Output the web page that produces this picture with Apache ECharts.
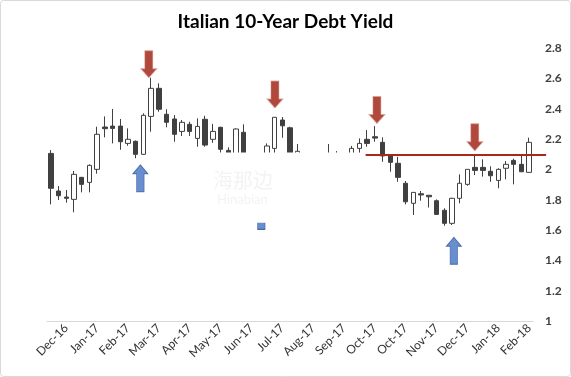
<!DOCTYPE html>
<html>
<head>
<meta charset="utf-8">
<title>Italian 10-Year Debt Yield</title>
<script src="https://cdn.jsdelivr.net/npm/echarts@6/dist/echarts.min.js"></script>
<style>
	html, body { margin: 0; padding: 0; background: #fff; }
	#chart { width: 571px; height: 377px; }
</style>
</head>
<body>
<div id="chart"></div>
<script>
// one candle per week, labelled with its month
var weeks = [
	'Dec-16','Dec-16','Dec-16',
	'Jan-17','Jan-17','Jan-17','Jan-17','Jan-17',
	'Feb-17','Feb-17','Feb-17','Feb-17',
	'Mar-17','Mar-17','Mar-17','Mar-17',
	'Apr-17','Apr-17','Apr-17','Apr-17','Apr-17',
	'May-17','May-17','May-17','May-17',
	'Jun-17','Jun-17','Jun-17','Jun-17',
	'Jul-17','Jul-17','Jul-17','Jul-17','Jul-17',
	'Aug-17','Aug-17','Aug-17','Aug-17',
	'Sep-17','Sep-17','Sep-17','Sep-17',
	'Oct-17','Oct-17','Oct-17','Oct-17','Oct-17',
	'Nov-17','Nov-17','Nov-17','Nov-17',
	'Dec-17','Dec-17','Dec-17','Dec-17','Dec-17',
	'Jan-18','Jan-18','Jan-18','Jan-18',
	'Feb-18','Feb-18','Feb-18'
];

// [open, close, low, high]
var candles = [
	[2.105, 1.875, 1.769, 2.127], [1.857, 1.826, 1.798, 1.890], [1.817, 1.809, 1.780, 1.864],
	[1.802, 1.967, 1.717, 1.989], [1.947, 1.901, 1.848, 1.950], [1.914, 2.026, 1.848, 2.033],
	[2.000, 2.231, 1.971, 2.281], [2.279, 2.268, 2.211, 2.349], [2.285, 2.270, 2.171, 2.398],
	[2.285, 2.182, 2.129, 2.332], [2.171, 2.198, 2.156, 2.270], [2.185, 2.099, 2.073, 2.190],
	[2.099, 2.356, 2.095, 2.369], [2.349, 2.534, 2.248, 2.604], [2.534, 2.396, 2.380, 2.567],
	[2.363, 2.310, 2.277, 2.396], [2.332, 2.231, 2.182, 2.358], [2.250, 2.310, 2.220, 2.325],
	[2.297, 2.250, 2.220, 2.314], [2.204, 2.283, 2.149, 2.336], [2.330, 2.160, 2.149, 2.353],
	[2.198, 2.250, 2.175, 2.300], [2.277, 2.132, 2.100, 2.281], [2.125, 2.080, 2.050, 2.145],
	[2.080, 2.266, 2.060, 2.270], [2.244, 2.070, 2.060, 2.297], [2.070, 1.950, 1.910, 2.100],
	[1.950, 1.930, 1.860, 2.020], [1.940, 2.154, 1.900, 2.171], [2.138, 2.343, 2.100, 2.345],
	[2.325, 2.287, 2.208, 2.345], [2.274, 2.070, 2.060, 2.281], [2.080, 2.119, 2.050, 2.167],
	[2.080, 2.020, 1.990, 2.100], [2.020, 2.050, 1.980, 2.080], [2.050, 2.030, 2.000, 2.090],
	[2.040, 2.080, 2.010, 2.167], [2.080, 2.060, 2.020, 2.120], [2.060, 2.040, 2.000, 2.100],
	[2.050, 2.138, 2.030, 2.154], [2.138, 2.171, 2.090, 2.204], [2.198, 2.171, 2.149, 2.259],
	[2.215, 2.206, 2.182, 2.285], [2.178, 2.088, 2.050, 2.211], [2.088, 2.046, 1.984, 2.090],
	[2.040, 1.947, 1.918, 2.083], [1.908, 1.786, 1.769, 1.923], [1.776, 1.848, 1.699, 1.850],
	[1.839, 1.831, 1.793, 1.857], [1.829, 1.819, 1.748, 1.830], [1.793, 1.703, 1.700, 1.802],
	[1.730, 1.644, 1.628, 1.743], [1.644, 1.809, 1.633, 1.813], [1.809, 1.908, 1.776, 1.967],
	[1.901, 2.000, 1.892, 2.000], [2.013, 1.993, 1.962, 2.094], [2.013, 1.993, 1.952, 2.066],
	[1.987, 1.958, 1.918, 2.020], [1.927, 2.000, 1.875, 2.007], [2.007, 2.033, 1.934, 2.055],
	[2.059, 2.033, 1.901, 2.070], [2.033, 1.984, 1.984, 2.099], [1.980, 2.178, 1.980, 2.209]
];

// annotation arrows: [week position, yield]
var downArrows = [[12.7, 2.693], [29.05, 2.494], [42.27, 2.391], [54.96, 2.211]];
var upArrows = [[11.6, 1.941], [27.28, 1.693], [52.24, 1.463]];

// resistance line
var resistance = 2.094;
var resistanceFrom = 40.8;

var yTicks = [1, 1.2, 1.4, 1.6, 1.8, 2, 2.2, 2.4, 2.6, 2.8];

var chart = echarts.init(document.getElementById('chart'));
var font = 'Lato, "Open Sans", sans-serif';

var option = {
	animation: false,
	backgroundColor: '#fff',
	title: {
		text: 'Italian 10-Year Debt Yield',
		left: 'center',
		top: 7,
		textStyle: { fontFamily: font, fontSize: 19, fontWeight: 'bold', color: '#000' }
	},
	grid: { left: 47, right: 38, top: 48, bottom: 56 },
	xAxis: [{
		type: 'category',
		data: weeks,
		boundaryGap: true,
		axisLine: { lineStyle: { color: '#d9d9d9', width: 1 } },
		axisTick: { interval: 0, length: 4, lineStyle: { color: '#d9d9d9' } },
		axisLabel: {
			interval: function (idx) { return (idx - 2) % 4 === 0; },
			rotate: 45,
			margin: 5,
			fontFamily: font,
			fontSize: 12,
			color: '#333333'
		},
		splitLine: { show: false }
	}, {
		type: 'value',
		min: -0.5,
		max: weeks.length - 0.5,
		show: false
	}],
	yAxis: {
		type: 'value',
		position: 'right',
		min: yTicks[0],
		max: yTicks[yTicks.length - 1],
		interval: 0.2,
		axisLine: { show: false },
		axisTick: { show: false },
		splitLine: { show: false },
		axisLabel: { margin: 12, fontFamily: font, fontSize: 12, fontWeight: 'bold', color: '#404040' }
	},
	series: [{
		type: 'candlestick',
		xAxisIndex: 0,
		barWidth: 5,
		data: candles.map(function (c) { return [c[0], c[1], c[2], c[3]]; }),
		itemStyle: {
			color: '#ffffff',
			color0: '#404040',
			borderColor: '#404040',
			borderColor0: '#404040',
			borderWidth: 1
		}
	}, {
		type: 'scatter',
		xAxisIndex: 1,
		symbol: 'path://M4,0L12,0L12,18L16,18L8,27L0,18L4,18Z',
		symbolSize: [16, 27],
		itemStyle: { color: '#9c1a0b', borderColor: '#d8a096', borderWidth: 0.8 },
		data: downArrows
	}, {
		type: 'scatter',
		xAxisIndex: 1,
		symbol: 'path://M8,0L16,9L12,9L12,27L4,27L4,9L0,9Z',
		symbolSize: [15, 27],
		itemStyle: { color: '#4472c4', borderColor: '#2f5597', borderWidth: 0.8 },
		data: upArrows
	}]
};

chart.setOption(option);

// overlays that depend on the laid-out axes
function px(x, y) {
	return chart.convertToPixel({ seriesIndex: 1 }, [x, y]);
}
var boxA = px(17.5, 2.111);
var boxB = px(41.5, 1.648);
var lineA = px(resistanceFrom, resistance);
var lineB = px(weeks.length - 0.5 + 1.7, resistance);

chart.setOption({
	graphic: [{
		type: 'rect',
		z: 10,
		shape: { x: boxA[0], y: boxA[1], width: boxB[0] - boxA[0], height: boxB[1] - boxA[1] },
		style: { fill: '#fff' }
	}, {
		type: 'text',
		z: 11,
		left: 213,
		top: 170,
		style: { text: '海那边', fill: '#f3f3f3', font: '20px "Noto Sans CJK SC"' }
	}, {
		type: 'text',
		z: 11,
		left: 217,
		top: 193,
		style: { text: 'Hinabian', fill: '#f3f3f3', font: '13px ' + font }
	}, {
		type: 'line',
		z: 12,
		shape: { x1: lineA[0], y1: lineA[1], x2: lineB[0], y2: lineB[1] },
		style: { stroke: '#a8291c', lineWidth: 2 }
	}, {
		type: 'rect',
		z: 12,
		shape: { x: 0.5, y: 0.5, width: 570, height: 376, r: 3 },
		style: { fill: null, stroke: '#d9d9d9', lineWidth: 1 }
	}]
});
</script>
</body>
</html>
